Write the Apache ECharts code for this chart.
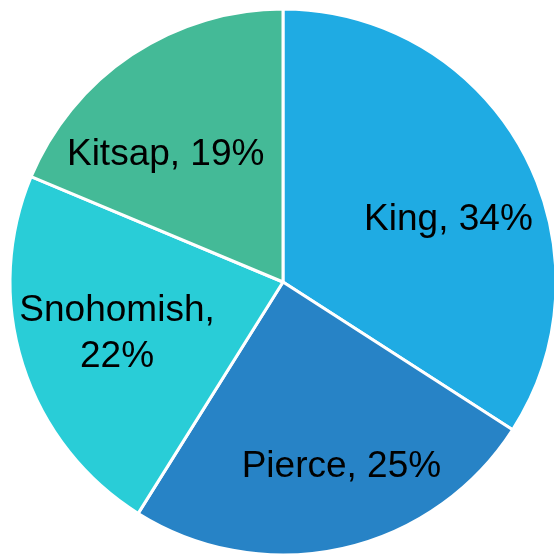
<!DOCTYPE html>
<html>
<head>
<meta charset="utf-8">
<script src="https://cdn.jsdelivr.net/npm/echarts@6/dist/echarts.min.js"></script>
<style>
  html, body { margin: 0; padding: 0; background: #fff; }
  #chart { width: 554px; height: 555px; }
</style>
</head>
<body>
<div id="chart"></div>
<script>
// counties and their shares (%)
const counties = ['King', 'Pierce', 'Snohomish', 'Kitsap']
const shares = [34.1, 24.8, 22.4, 18.7]
const shownPercents = ['34%', '25%', '22%', '19%']

const colors = ['#1FABE3', '#2783C6', '#29CDD7', '#44BA97']
// nudge labels away from the mid-radius spot (Excel best-fit look)
const labelOffsets = [[43, 5], [28, 49], [-33, 10], [-40, -11]]

const chart = echarts.init(document.getElementById('chart'))

chart.setOption({
  animation: false,
  series: [
    {
      type: 'pie',
      center: [283, 282],
      radius: 273,
      startAngle: 90,
      clockwise: true,
      silent: true,
      itemStyle: {
        borderColor: '#fff',
        borderWidth: 3
      },
      label: {
        position: 'inside',
        color: '#000',
        fontFamily: 'Liberation Sans, Arial, sans-serif',
        fontSize: 37,
        lineHeight: 46,
        align: 'center'
      },
      labelLine: { show: false },
      data: counties.map((name, i) => ({
        name,
        value: shares[i],
        itemStyle: { color: colors[i] },
        label: {
          // Snohomish wraps onto two lines in the original
          formatter: name + (name === 'Snohomish' ? ',\n' : ', ') + shownPercents[i],
          offset: labelOffsets[i]
        }
      }))
    }
  ]
})
</script>
</body>
</html>
